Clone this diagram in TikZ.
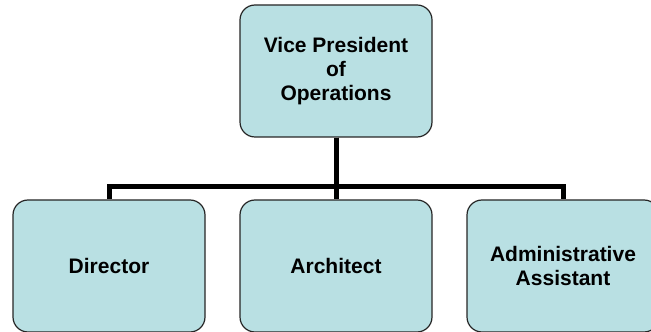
\documentclass[tikz,border=0pt]{standalone}
\usepackage{fontspec}
\setmainfont{Liberation Sans}
\definecolor{boxfill}{HTML}{B9E0E3}

\begin{document}
\begin{tikzpicture}[x=1pt,y=1pt,
        level distance=195pt,
        level 1/.style={sibling distance=227pt},
        every node/.style={rectangle, rounded corners=15pt, draw=black!85,
            line width=1.2pt, fill=boxfill, minimum width=192pt,
            minimum height=132pt, align=center,
            font=\fontsize{21}{24}\selectfont\bfseries},
        edge from parent/.style={draw, line width=5pt},
        edge from parent path={(\tikzparentnode.south) |- ([yshift=13pt]\tikzchildnode.north) -- (\tikzchildnode.north)}]
    \clip (0,0) rectangle (651,332);
    \node (vp) at (336,261) {Vice President\\of\\Operations}
        child {node (dir) {Director}}
        child {node (arch) {Architect}}
        child {node (admin) {Administrative\\Assistant}};
\end{tikzpicture}
\end{document}
